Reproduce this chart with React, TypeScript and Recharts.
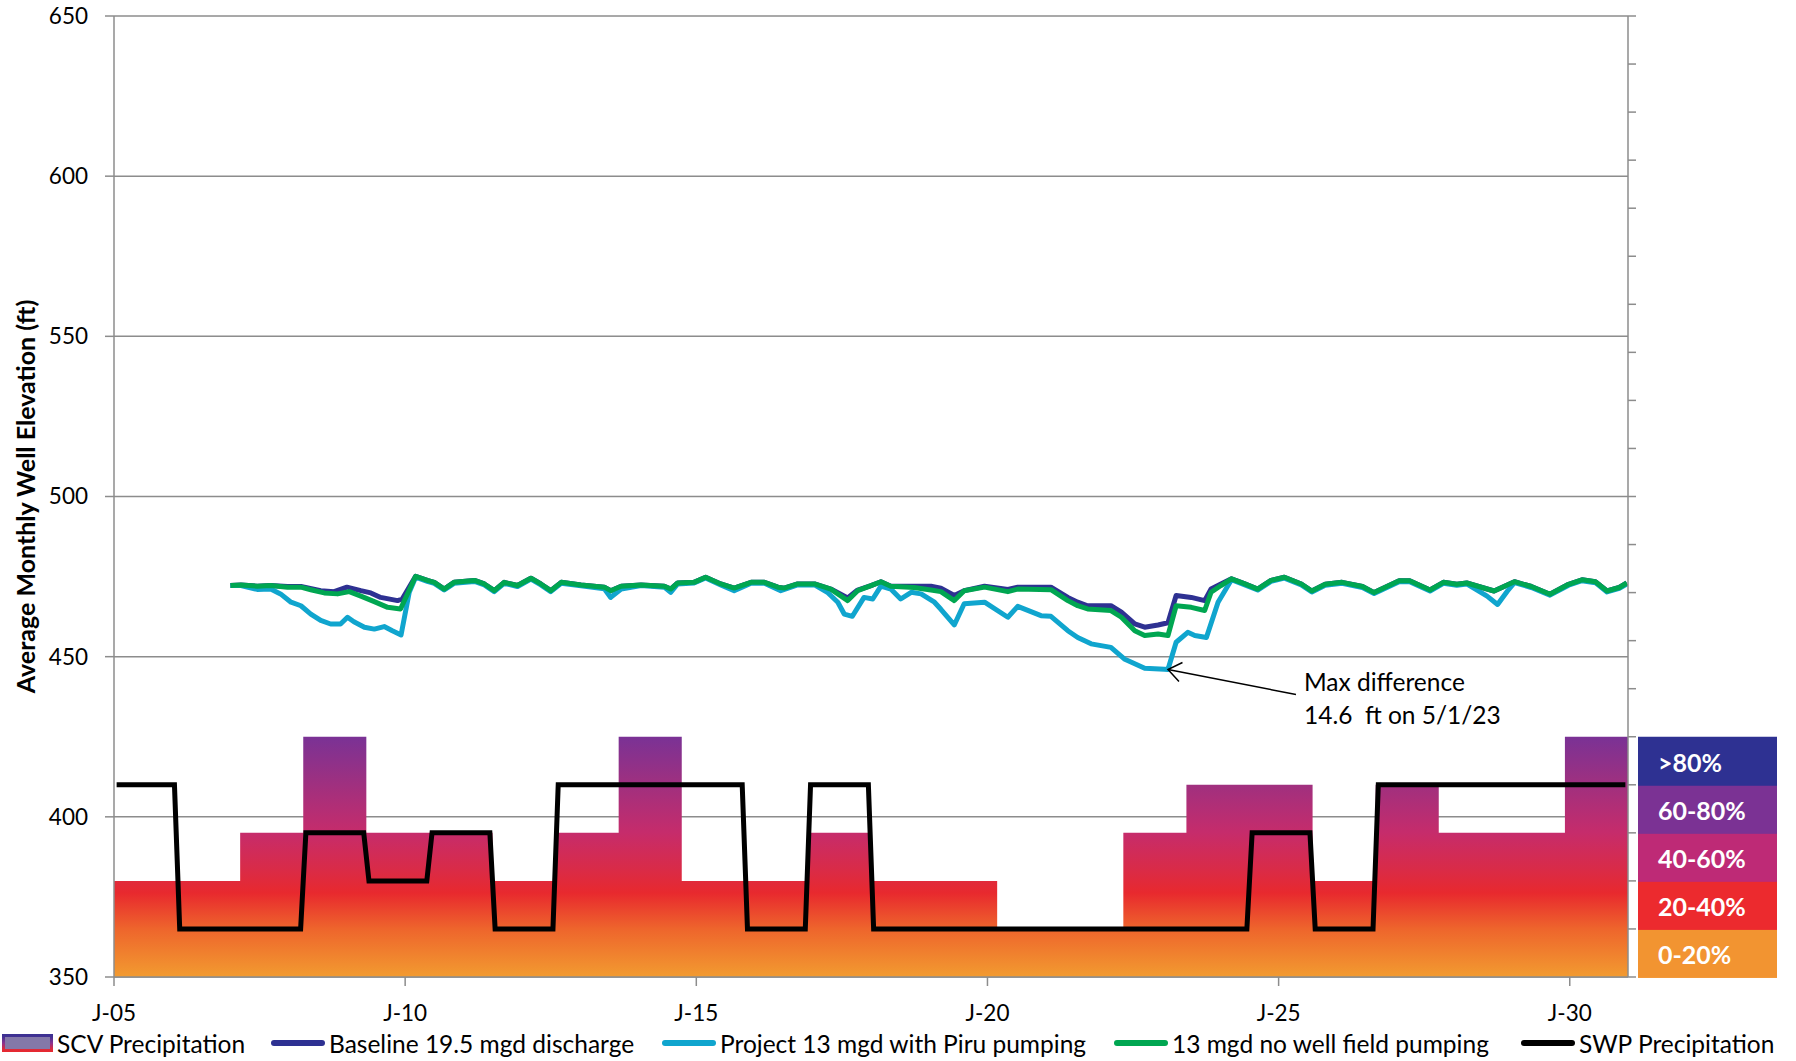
import React from "react"
import { ComposedChart, Line, Area, XAxis, YAxis, CartesianGrid, Legend, ReferenceDot } from "recharts"

const FONT = "Lato, 'Open Sans', sans-serif"

// primary axes: time in decimal years, elevation in ft
const yearTicks = [2005, 2010, 2015, 2020, 2025, 2030]
const elevTicks = [350, 400, 450, 500, 550, 600, 650]

// precipitation bands (1 = 0-20% ... 5 = >80%), one per year 2007-2030
const bandLabels = ["0-20%", "20-40%", "40-60%", "60-80%", ">80%"]
const bandColors = ["#F29431", "#EC2A2E", "#BE2A76", "#7B3294", "#2E3192"]
const scvBand = [2, 2, 3, 5, 3, 3, 2, 3, 5, 2, 2, 3, 2, 2, 1, 1, 3, 4, 4, 2, 4, 3, 3, 5]
const swpBand = [4, 1, 1, 3, 2, 3, 1, 4, 4, 4, 1, 4, 1, 1, 1, 1, 1, 1, 3, 1, 4, 4, 4, 4]

// average monthly well elevation, [year, ft]
const baseline: [number, number][] = [
  [2007.0, 472.2], [2007.18, 472.4], [2007.46, 472.0], [2007.69, 472.2], [2007.98, 471.9], [2008.21, 471.9],
  [2008.55, 470.6], [2008.78, 470.3], [2009.0, 471.7], [2009.24, 470.6], [2009.41, 469.9], [2009.58, 468.5],
  [2009.87, 467.5], [2009.95, 468.0], [2010.18, 475.1], [2010.38, 473.8], [2010.5, 473.2], [2010.67, 471.1],
  [2010.84, 473.2], [2011.19, 473.8], [2011.36, 472.7], [2011.53, 470.6], [2011.7, 473.2], [2011.93, 472.2],
  [2012.16, 474.5], [2012.33, 472.7], [2012.5, 470.6], [2012.68, 473.2], [2013.02, 472.4], [2013.42, 471.7],
  [2013.53, 470.6], [2013.71, 472.0], [2014.05, 472.4], [2014.45, 472.0], [2014.56, 471.1], [2014.68, 473.0],
  [2014.96, 473.2], [2015.16, 474.8], [2015.42, 472.7], [2015.65, 471.4], [2015.94, 473.2], [2016.17, 473.2],
  [2016.4, 471.7], [2016.51, 471.4], [2016.74, 472.7], [2017.03, 472.7], [2017.31, 471.1], [2017.6, 468.3],
  [2017.77, 470.8], [2018.0, 472.2], [2018.17, 473.4], [2018.34, 472.0], [2018.74, 472.0], [2019.03, 472.0],
  [2019.2, 471.4], [2019.43, 469.1], [2019.6, 470.6], [2019.95, 472.0], [2020.35, 471.0], [2020.52, 471.7],
  [2021.09, 471.7], [2021.38, 468.5], [2021.55, 467.0], [2021.72, 465.9], [2022.12, 465.9], [2022.3, 463.9],
  [2022.53, 460.2], [2022.7, 459.2], [2022.93, 459.9], [2023.1, 460.6], [2023.24, 469.1], [2023.5, 468.5],
  [2023.73, 467.5], [2023.84, 471.1], [2024.01, 472.7], [2024.19, 474.3], [2024.42, 472.7], [2024.64, 471.1],
  [2024.87, 473.8], [2025.1, 474.8], [2025.39, 472.7], [2025.57, 470.5], [2025.8, 472.6], [2026.09, 473.2],
  [2026.44, 471.9], [2026.64, 470.0], [2027.07, 473.7], [2027.25, 473.7], [2027.6, 470.8], [2027.83, 473.2],
  [2028.06, 472.6], [2028.23, 473.0], [2028.7, 470.5], [2029.05, 473.4], [2029.34, 471.9], [2029.66, 469.5],
  [2029.98, 472.6], [2030.21, 474.0], [2030.44, 473.4], [2030.64, 470.5], [2030.85, 471.6], [2030.98, 473.0],
]

const project: [number, number][] = [
  [2007.0, 472.2], [2007.18, 472.2], [2007.46, 471.0], [2007.69, 471.1], [2007.86, 469.6], [2008.04, 467.0],
  [2008.21, 465.9], [2008.38, 463.3], [2008.55, 461.3], [2008.72, 460.2], [2008.89, 460.2], [2009.01, 462.3],
  [2009.12, 460.9], [2009.3, 459.2], [2009.47, 458.6], [2009.64, 459.4], [2009.78, 458.1], [2009.93, 456.8],
  [2010.07, 470.1], [2010.18, 474.8], [2010.38, 473.5], [2010.5, 472.9], [2010.67, 470.8], [2010.84, 472.9],
  [2011.19, 473.5], [2011.36, 472.4], [2011.53, 470.3], [2011.7, 472.9], [2011.93, 471.9], [2012.16, 474.2],
  [2012.33, 472.4], [2012.5, 470.3], [2012.68, 472.9], [2013.02, 472.1], [2013.42, 471.2], [2013.53, 468.5],
  [2013.71, 471.1], [2014.05, 472.2], [2014.45, 471.7], [2014.56, 470.1], [2014.68, 472.7], [2014.96, 473.0],
  [2015.16, 474.6], [2015.42, 472.4], [2015.65, 470.6], [2015.94, 472.9], [2016.17, 472.9], [2016.45, 470.6],
  [2016.74, 472.4], [2017.03, 472.4], [2017.25, 470.1], [2017.43, 467.0], [2017.54, 463.3], [2017.68, 462.6],
  [2017.88, 468.5], [2018.03, 468.0], [2018.17, 472.0], [2018.34, 471.1], [2018.51, 468.0], [2018.69, 470.1],
  [2018.86, 469.6], [2019.09, 467.0], [2019.2, 464.8], [2019.43, 459.9], [2019.6, 466.5], [2019.95, 467.0],
  [2020.35, 462.3], [2020.52, 465.7], [2020.92, 462.8], [2021.09, 462.6], [2021.38, 458.1], [2021.55, 456.0],
  [2021.78, 454.0], [2022.12, 452.9], [2022.35, 449.3], [2022.7, 446.4], [2023.04, 446.1], [2023.1, 446.0],
  [2023.24, 454.5], [2023.44, 457.6], [2023.56, 456.6], [2023.76, 456.0], [2023.96, 467.0], [2024.19, 474.0],
  [2024.42, 472.4], [2024.64, 470.8], [2024.87, 473.5], [2025.1, 474.5], [2025.39, 472.4], [2025.57, 470.2],
  [2025.8, 472.3], [2026.09, 472.9], [2026.44, 471.6], [2026.64, 469.7], [2027.07, 473.4], [2027.25, 473.4],
  [2027.6, 470.5], [2027.83, 472.9], [2028.06, 472.3], [2028.23, 472.7], [2028.58, 468.9], [2028.76, 466.3],
  [2028.93, 470.5], [2029.05, 473.1], [2029.34, 471.6], [2029.66, 469.2], [2029.98, 472.3], [2030.21, 473.7],
  [2030.44, 473.1], [2030.64, 470.2], [2030.85, 471.3], [2030.98, 472.7],
]

const noWellField: [number, number][] = [
  [2007.0, 472.2], [2007.18, 472.4], [2007.46, 472.0], [2007.69, 472.2], [2007.98, 471.7], [2008.21, 471.7],
  [2008.38, 470.9], [2008.61, 469.9], [2008.84, 469.6], [2009.04, 470.3], [2009.24, 468.9], [2009.47, 467.2],
  [2009.7, 465.4], [2009.92, 464.9], [2010.18, 475.1], [2010.38, 473.8], [2010.5, 473.2], [2010.67, 471.1],
  [2010.84, 473.2], [2011.19, 473.8], [2011.36, 472.7], [2011.53, 470.6], [2011.7, 473.2], [2011.93, 472.2],
  [2012.16, 474.5], [2012.33, 472.7], [2012.5, 470.6], [2012.68, 473.2], [2013.02, 472.4], [2013.42, 471.7],
  [2013.53, 470.6], [2013.71, 472.0], [2014.05, 472.4], [2014.45, 472.0], [2014.56, 471.1], [2014.68, 473.0],
  [2014.96, 473.2], [2015.16, 474.8], [2015.42, 472.7], [2015.65, 471.4], [2015.94, 473.2], [2016.17, 473.2],
  [2016.4, 471.7], [2016.51, 471.4], [2016.74, 472.7], [2017.03, 472.7], [2017.31, 471.1], [2017.6, 467.5],
  [2017.77, 470.6], [2018.0, 472.2], [2018.17, 473.4], [2018.34, 472.0], [2018.74, 471.6], [2019.03, 470.8],
  [2019.2, 470.3], [2019.43, 467.5], [2019.6, 470.6], [2019.95, 471.7], [2020.35, 470.3], [2020.52, 471.1],
  [2021.09, 470.9], [2021.38, 467.5], [2021.55, 465.9], [2021.72, 464.9], [2022.12, 464.4], [2022.3, 462.3],
  [2022.53, 458.1], [2022.7, 456.6], [2022.93, 457.1], [2023.1, 456.6], [2023.24, 465.9], [2023.5, 465.4],
  [2023.73, 464.4], [2023.84, 470.1], [2024.01, 472.2], [2024.19, 474.3], [2024.42, 472.7], [2024.64, 471.1],
  [2024.87, 473.8], [2025.1, 474.8], [2025.39, 472.7], [2025.57, 470.5], [2025.8, 472.6], [2026.09, 473.2],
  [2026.44, 471.9], [2026.64, 470.0], [2027.07, 473.7], [2027.25, 473.7], [2027.6, 470.8], [2027.83, 473.2],
  [2028.06, 472.6], [2028.23, 473.0], [2028.7, 470.5], [2029.05, 473.4], [2029.34, 471.9], [2029.66, 469.5],
  [2029.98, 472.6], [2030.21, 474.0], [2030.44, 473.4], [2030.64, 470.5], [2030.85, 471.6], [2030.98, 473.0],
]

// max difference note, pinned to the project low point
const maxDiff = { t: 2023.1, ft: 446.0, text: ["Max difference", "14.6  ft on 5/1/23"] }

const toRows = (s: [number, number][]) => s.map(([t, v]) => ({ t, v }))

// SCV steps: one block per year on the band axis
const scvRows = scvBand.concat(scvBand[scvBand.length - 1]).map((scv, i) => ({ b: i, scv }))
// SWP is monthly, so each year's value repeats 12 times
const swpRows = swpBand.flatMap((v, i) =>
  Array.from({ length: 12 }, (_, m) => ({ b: i + (m + 0.5) / 12, swp: v }))
)

const GRID = "#8c8c8c"

const BandTick = (props: any) => {
  const { x, y, payload } = props
  const lvl = payload.value
  if (lvl < 1 || lvl > 5) return <g />
  return (
    <g>
      <rect x={x} y={y} width={139} height={49} fill={bandColors[lvl - 1]} />
      <text x={x + 20} y={y + 25} dominantBaseline="central" fill="#fff" fontSize={25} fontWeight={700}>
        {bandLabels[lvl - 1]}
      </text>
    </g>
  )
}

const NoteShape = (props: any) => {
  const { cx, cy } = props
  if (cx == null || cy == null) return <g />
  return (
    <g>
      <line x1={cx} y1={cy} x2={cx + 128} y2={cy + 25} stroke="#000" strokeWidth={1.5} />
      <polyline
        points={`${cx + 14.5},${cy - 7} ${cx},${cy} ${cx + 11},${cy + 12}`}
        fill="none"
        stroke="#000"
        strokeWidth={1.5}
      />
      <text x={cx + 136} y={cy + 22} fontSize={24.5} fill="#000" style={{ whiteSpace: "pre" }}>
        {maxDiff.text[0]}
      </text>
      <text x={cx + 136} y={cy + 55} fontSize={24.5} fill="#000" style={{ whiteSpace: "pre" }}>
        {maxDiff.text[1]}
      </text>
    </g>
  )
}

const legendItems = [
  { name: "SCV Precipitation", color: "", left: 2 },
  { name: "Baseline 19.5 mgd discharge", color: "#2E3192", left: 271 },
  { name: "Project 13 mgd with Piru pumping", color: "#10A5CE", left: 662 },
  { name: "13 mgd no well field pumping", color: "#00A651", left: 1114 },
  { name: "SWP Precipitation", color: "#000", left: 1521 },
]

const renderLegend = () => (
  <div style={{ position: "relative", width: 1796, height: 32, fontFamily: FONT, fontSize: 24.5, color: "#000" }}>
    {legendItems.map((it) => (
      <div
        key={it.name}
        style={{ position: "absolute", left: it.left, top: 0, height: 32, display: "flex", alignItems: "center", whiteSpace: "nowrap" }}
      >
        {it.color === "" ? (
          <div
            style={{
              width: 45,
              height: 12,
              background: "#8478A8",
              border: "3px solid",
              borderImage: "linear-gradient(#3A3192, #8A3190, #E8292F) 1",
              marginRight: 4,
            }}
          />
        ) : (
          <div style={{ width: 54, height: 6, borderRadius: 3, background: it.color, marginRight: 4 }} />
        )}
        <span>{it.name}</span>
      </div>
    ))}
  </div>
)

export default function App() {
  return (
    <div style={{ width: 1796, height: 1061, fontFamily: FONT, background: "#fff" }}>
      <style>{`body{margin:0}`}</style>
      <svg width={0} height={0} style={{ position: "absolute" }}>
        <defs>
          <linearGradient id="scvGrad" x1="0" y1="0" x2="0" y2="1">
            <stop offset="0" stopColor="#7A3295" />
            <stop offset="0.2" stopColor="#A0307F" />
            <stop offset="0.4" stopColor="#C62C6B" />
            <stop offset="0.55" stopColor="#D92B48" />
            <stop offset="0.65" stopColor="#E8292E" />
            <stop offset="0.8" stopColor="#EE652C" />
            <stop offset="1" stopColor="#F29B30" />
          </linearGradient>
        </defs>
      </svg>
      <ComposedChart width={1796} height={1061} data={scvRows} margin={{ top: 16, right: 0, bottom: 2, left: 0 }}>
        <CartesianGrid xAxisId="date" yAxisId="ft" vertical={false} stroke={GRID} strokeWidth={1.5} />
        <XAxis xAxisId="band" type="number" dataKey="b" domain={[0, 24]} allowDataOverflow hide orientation="top" height={0} />
        <XAxis
          xAxisId="date"
          type="number"
          dataKey="t"
          domain={[2005, 2031]}
          ticks={yearTicks}
          allowDataOverflow
          tickFormatter={(v: number) => `J-${String(v).slice(2)}`}
          height={50}
          tickSize={9}
          tickMargin={19}
          stroke={GRID}
          strokeWidth={1.5}
          tick={{ fill: "#000", fontSize: 22.5 }}
        />
        <YAxis
          yAxisId="ft"
          domain={[350, 650]}
          ticks={elevTicks}
          allowDataOverflow
          width={114}
          tickSize={9}
          tickMargin={17}
          stroke={GRID}
          strokeWidth={1.5}
          tick={{ fill: "#000", fontSize: 22.5 }}
          label={{
            content: (p: any) => {
              const vb = p.viewBox || { y: 16, height: 961 }
              const cy = vb.y + vb.height / 2
              return (
                <text
                  x={25}
                  y={cy}
                  transform={`rotate(-90, 25, ${cy})`}
                  textAnchor="middle"
                  dominantBaseline="central"
                  fontSize={25}
                  fontWeight={700}
                  fill="#000"
                >
                  Average Monthly Well Elevation (ft)
                </text>
              )
            },
          }}
        />
        <YAxis
          yAxisId="band"
          orientation="right"
          domain={[0, 20]}
          ticks={Array.from({ length: 21 }, (_, i) => i)}
          allowDataOverflow
          width={168}
          tickSize={8}
          tickMargin={2}
          stroke={GRID}
          strokeWidth={1.5}
          tick={BandTick}
        />
        <Area
          xAxisId="band"
          yAxisId="band"
          type="stepAfter"
          dataKey="scv"
          fill="url(#scvGrad)"
          fillOpacity={1}
          stroke="none"
          isAnimationActive={false}
        />
        <Line
          xAxisId="band"
          yAxisId="band"
          data={swpRows}
          dataKey="swp"
          type="linear"
          stroke="#000"
          strokeWidth={5}
          dot={false}
          isAnimationActive={false}
        />
        <Line
          xAxisId="date"
          yAxisId="ft"
          data={toRows(baseline)}
          dataKey="v"
          stroke="#2E3192"
          strokeWidth={5}
          strokeLinejoin="round"
          dot={false}
          isAnimationActive={false}
        />
        <Line
          xAxisId="date"
          yAxisId="ft"
          data={toRows(project)}
          dataKey="v"
          stroke="#10A5CE"
          strokeWidth={5}
          strokeLinejoin="round"
          dot={false}
          isAnimationActive={false}
        />
        <Line
          xAxisId="date"
          yAxisId="ft"
          data={toRows(noWellField)}
          dataKey="v"
          stroke="#00A651"
          strokeWidth={5}
          strokeLinejoin="round"
          dot={false}
          isAnimationActive={false}
        />
        <ReferenceDot xAxisId="date" yAxisId="ft" x={maxDiff.t} y={maxDiff.ft} r={0} shape={NoteShape} />
        <Legend verticalAlign="bottom" align="left" content={renderLegend} />
      </ComposedChart>
    </div>
  )
}
